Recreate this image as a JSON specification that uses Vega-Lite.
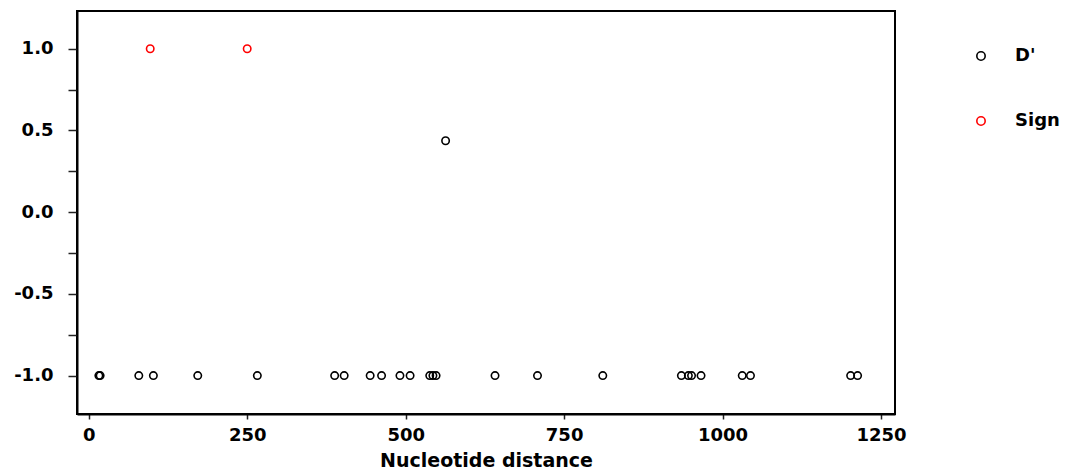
{
  "$schema": "https://vega.github.io/schema/vega-lite/v6.json",
  "width": 818,
  "height": 403,
  "autosize": "none",
  "padding": {"left": 77, "top": 11, "right": 174, "bottom": 61},
  "background": "white",
  "config": {
    "view": {"stroke": "#000", "strokeWidth": 2},
    "font": "DejaVu Sans",
    "axis": {
      "labelFont": "DejaVu Sans",
      "labelFontWeight": "bold",
      "labelFontSize": 18,
      "labelColor": "#000",
      "titleFont": "DejaVu Sans",
      "titleFontWeight": "bold",
      "titleFontSize": 19,
      "titleColor": "#000",
      "domainColor": "#000",
      "domainWidth": 2,
      "tickColor": "#222",
      "tickWidth": 1.5,
      "grid": false
    },
    "legend": {
      "labelFont": "DejaVu Sans",
      "labelFontWeight": "bold",
      "labelFontSize": 18,
      "labelColor": "#000"
    }
  },
  "data": {
    "values": [
      {"x": 16, "y": -1, "series": "D'"},
      {"x": 18, "y": -1, "series": "D'"},
      {"x": 79, "y": -1, "series": "D'"},
      {"x": 102, "y": -1, "series": "D'"},
      {"x": 172, "y": -1, "series": "D'"},
      {"x": 266, "y": -1, "series": "D'"},
      {"x": 388, "y": -1, "series": "D'"},
      {"x": 403, "y": -1, "series": "D'"},
      {"x": 444, "y": -1, "series": "D'"},
      {"x": 462, "y": -1, "series": "D'"},
      {"x": 491, "y": -1, "series": "D'"},
      {"x": 507, "y": -1, "series": "D'"},
      {"x": 538, "y": -1, "series": "D'"},
      {"x": 543, "y": -1, "series": "D'"},
      {"x": 548, "y": -1, "series": "D'"},
      {"x": 641, "y": -1, "series": "D'"},
      {"x": 708, "y": -1, "series": "D'"},
      {"x": 811, "y": -1, "series": "D'"},
      {"x": 935, "y": -1, "series": "D'"},
      {"x": 946, "y": -1, "series": "D'"},
      {"x": 951, "y": -1, "series": "D'"},
      {"x": 966, "y": -1, "series": "D'"},
      {"x": 1031, "y": -1, "series": "D'"},
      {"x": 1044, "y": -1, "series": "D'"},
      {"x": 1202, "y": -1, "series": "D'"},
      {"x": 1213, "y": -1, "series": "D'"},
      {"x": 563, "y": 0.437, "series": "D'"},
      {"x": 97, "y": 1, "series": "Sign"},
      {"x": 250, "y": 1, "series": "Sign"}
    ]
  },
  "mark": {"type": "point", "shape": "circle", "filled": false, "size": 55, "strokeWidth": 1.6, "opacity": 1},
  "encoding": {
    "x": {
      "field": "x",
      "type": "quantitative",
      "title": "Nucleotide distance",
      "scale": {"domain": [-18.5, 1272], "nice": false, "zero": false},
      "axis": {"values": [0, 250, 500, 750, 1000, 1250], "format": "d", "tickSize": 5, "labelPadding": 7, "titlePadding": 7}
    },
    "y": {
      "field": "y",
      "type": "quantitative",
      "title": null,
      "scale": {"domain": [-1.235, 1.231], "nice": false, "zero": false},
      "axis": {"values": [-1, -0.75, -0.5, -0.25, 0, 0.25, 0.5, 0.75, 1], "labelExpr": "datum.value * 4 % 2 != 0 ? '' : (datum.value < 0 ? '-' + format(-datum.value, '.1f') : format(datum.value, '.1f'))", "tickSize": 9, "labelPadding": 15}
    },
    "color": {
      "field": "series",
      "type": "nominal",
      "scale": {"domain": ["D'", "Sign"], "range": ["#000000", "#ff0000"]},
      "legend": {
        "title": null,
        "orient": "none",
        "legendX": 895,
        "legendY": 36,
        "rowPadding": 47,
        "symbolSize": 70,
        "symbolStrokeWidth": 1.6,
        "labelOffset": 25,
        "symbolType": "circle",
        "symbolFillColor": "transparent"
      }
    }
  }
}
